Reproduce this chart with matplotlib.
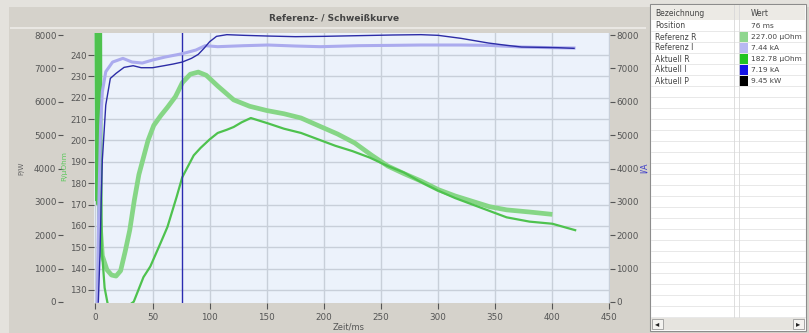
import matplotlib
matplotlib.use("Agg")
import matplotlib.pyplot as plt
from matplotlib.patches import Rectangle

W, H = 809, 333

# --- data --------------------------------------------------------------
# Aktuell I (dark blue), ampere, right axis
t_ist_i = [2.5, 4, 5, 6, 9, 13, 18, 25, 33, 40, 50, 60, 68, 76, 84, 90, 95, 100,
           106, 115, 130, 150, 175, 200, 230, 260, 285, 300, 320, 344, 360, 373, 390, 405, 419]
ist_i = [0, 1500, 3000, 4250, 5900, 6700, 6850, 7030, 7080, 7020, 7020, 7080, 7130, 7190,
         7300, 7420, 7600, 7800, 7960, 8010, 7990, 7970, 7950, 7960, 7980, 8000, 8010, 7990,
         7900, 7760, 7690, 7640, 7630, 7620, 7600]

# Referenz I (lavender)
t_ref_i = [1.5, 3, 4.5, 6, 9, 15, 24, 32, 41, 50, 61, 76, 88, 96, 107, 130, 151, 175,
           197, 230, 260, 285, 320, 344, 373, 400, 419]
ref_i = [0, 3000, 5300, 6300, 6900, 7190, 7300, 7190, 7160, 7250, 7340, 7440, 7550, 7680,
         7650, 7680, 7700, 7670, 7650, 7680, 7690, 7700, 7700, 7690, 7640, 7620, 7610]

# Referenz R (pale green), uOhm
t_ref_r = [0, 2, 3.5, 6, 10, 14, 18, 22, 26, 30, 34, 38, 42, 46, 51, 57, 63, 70, 76, 83,
           90, 97, 107, 121, 135, 150, 165, 180, 197, 212, 227, 242, 256, 270, 285, 300,
           315, 330, 345, 360, 380, 398]
ref_r = [262, 262, 165, 146, 139.5, 137, 136.5, 139, 148, 158, 172, 184, 192, 200, 207,
         211.5, 215.5, 220.5, 227, 231, 232, 230.5, 225.5, 219, 216, 214, 212.5, 210.5,
         206.5, 203, 198.8, 193, 188, 184.5, 181, 177, 174, 171.5, 169, 167.5, 166.5, 165.5]

# Aktuell R (bright green)
t_ist_r = [0, 0.6, 1.2, 1.8, 2.4, 3.0, 3.6, 4.2, 4.8, 5.4, 8, 10.5, 14, 31, 33.5, 42, 48,
           57, 63, 71, 76, 86, 92, 100, 107, 115, 121, 128, 136, 145, 151, 165, 180, 195,
           210, 225, 240, 256, 270, 285, 300, 315, 330, 345, 360, 380, 400, 420]
ist_r = [262, 172, 262, 170, 262, 172, 262, 168, 262, 150, 131, 124, 118, 123.5, 124.5,
         136, 141, 152, 159.5, 173.5, 182.8, 193, 196.5, 200.5, 203.5, 205, 206.3, 208.5,
         210.5, 209, 208, 205.5, 203.5, 200.5, 197.5, 195, 192, 188, 185, 180.5, 176.5,
         173, 170, 167, 164, 162, 161, 158]

cursor_t = 76

x_ticks = list(range(0, 451, 50))
r_ticks = list(range(130, 241, 10))
p_ticks = list(range(0, 8001, 1000))

table_names = ["Position", "Referenz R", "Referenz I", "Aktuell R", "Aktuell I", "Aktuell P"]
table_values = ["76 ms", "227.00 µOhm", "7.44 kA", "182.78 µOhm", "7.19 kA", "9.45 kW"]
table_colors = [None, "#8fd68f", "#b8b8f2", "#22c422", "#1414e6", "#000000"]


def fx(x):
    return x / W


def fy(y):
    return 1 - y / H


def box(fig, x0, y0, x1, y1, fc, ec="none", lw=0.8):
    fig.patches.append(Rectangle((fx(x0), fy(y1)), fx(x1) - fx(x0), fy(y0) - fy(y1),
                                 transform=fig.transFigure, facecolor=fc,
                                 edgecolor=ec, linewidth=lw))


fig = plt.figure(figsize=(W / 100, H / 100), dpi=100, facecolor="#d5d2cb")

# window frame bits
box(fig, 0, 0, W, 7, "#e4e2dd")
box(fig, 0, 0, 9, H, "#e4e2dd")
box(fig, 10, 27, 646, 29, "#e9e7e3")

ax = fig.add_axes([fx(94), fy(303), (610 - 94) / W, (303 - 33) / H])
ax.set_facecolor("#ecf2fb")
ax_i = ax.twinx()
ax_p = ax.twinx()

tick_kw = dict(labelsize=6.3, labelcolor="#555555", color="#555555", width=0.8)

# R axis (inner left, grid)
ax.set_xlim(-1.3, 450.5)
ax.set_ylim(123.9, 250.3)
ax.set_xticks(x_ticks)
ax.set_yticks(r_ticks)
ax.tick_params(axis="x", length=4, pad=3, **tick_kw)
ax.tick_params(axis="y", length=4, pad=1.2, **tick_kw)
ax.grid(True, color="#c8cfd9", linewidth=1)
ax.set_axisbelow(True)

# I axis (right)
ax_i.set_ylim(-30, 8060)
ax_i.set_yticks(p_ticks)
ax_i.tick_params(axis="y", length=3.5, pad=1, **tick_kw)

# P axis (outer left)
ax_p.set_ylim(-30, 8060)
ax_p.set_yticks(p_ticks)
ax_p.yaxis.tick_left()
ax_p.spines["left"].set_position(("outward", 22))
ax_p.tick_params(axis="y", length=3.5, pad=1.5, **tick_kw)

for a in (ax, ax_i, ax_p):
    for s in a.spines.values():
        s.set_linewidth(0)

# curves
ax.plot(t_ref_r, ref_r, color="#86d686", linewidth=3.4, solid_joinstyle="round")
ax.plot(t_ist_r, ist_r, color="#4ec24e", linewidth=1.6)
ax_i.plot(t_ref_i, ref_i, color="#ababee", linewidth=2.2)
ax_i.plot(t_ist_i, ist_i, color="#2c2ca6", linewidth=1.0)
ax.axvline(cursor_t, color="#2b2bb0", linewidth=1.0)

# labels
fig.text(fx(334), fy(18), "Referenz- / Schweißkurve", fontsize=6.5, color="#444444",
         ha="center", va="center", fontweight="bold")
fig.text(fx(349), fy(327), "Zeit/ms", fontsize=6, color="#555555", ha="center", va="center")
fig.text(fx(21), fy(168), "P/W", fontsize=5, color="#666666", rotation=90,
         ha="center", va="center")
fig.text(fx(64.5), fy(166), "R/µOhm", fontsize=5.3, color="#5cc85c", rotation=90,
         ha="center", va="center")
fig.text(fx(644), fy(168), "I/A", fontsize=5.8, color="#3a3ac8", rotation=90,
         ha="center", va="center")

# side table
box(fig, 650, 4, 806, 331, "#ffffff", "#8c8c8c", 0.8)
box(fig, 651, 5, 805, 20, "#eceae5")
for y in range(31, 318, 11):
    fig.add_artist(plt.Line2D([fx(651), fx(805)], [fy(y), fy(y)], color="#e4e4e4", lw=0.6))
for x in (734, 739):
    fig.add_artist(plt.Line2D([fx(x), fx(x)], [fy(5), fy(317)], color="#d8d8d8", lw=0.6))
fig.text(fx(655), fy(13), "Bezeichnung", fontsize=5.5, color="#444444", va="center")
fig.text(fx(751), fy(13), "Wert", fontsize=5.5, color="#444444", va="center")
for k, (name, val, col) in enumerate(zip(table_names, table_values, table_colors)):
    yc = 26 + 11 * k
    fig.text(fx(655), fy(yc), name, fontsize=5.5, color="#444444", va="center")
    fig.text(fx(751), fy(yc), val, fontsize=5.3, color="#444444", va="center")
    if col is not None:
        box(fig, 739, yc - 5, 748, yc + 5, col)

# scrollbar
box(fig, 651, 318, 805, 330, "#e6e4df")
box(fig, 652, 319, 663, 329, "#f4f3f0", "#9a9a9a", 0.6)
box(fig, 793, 319, 804, 329, "#f4f3f0", "#9a9a9a", 0.6)
fig.text(fx(657.5), fy(324), "◂", fontsize=6, color="#222222", ha="center", va="center")
fig.text(fx(798.5), fy(324), "▸", fontsize=6, color="#222222", ha="center", va="center")

fig.savefig("out.png", dpi=100, facecolor=fig.get_facecolor())
